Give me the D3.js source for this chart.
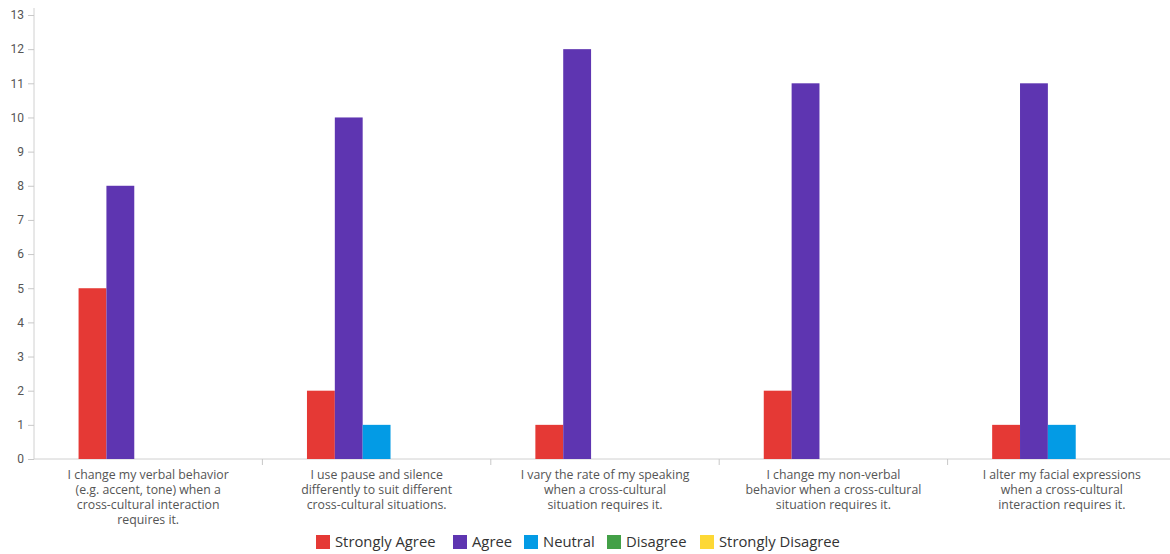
<!DOCTYPE html>
<html>
<head>
<meta charset="utf-8">
<script src="https://cdn.jsdelivr.net/npm/d3@7"></script>
<style>
  html, body { margin: 0; padding: 0; background: #fff; }
  svg { display: block; font-family: "Open Sans", Roboto, sans-serif; }
</style>
</head>
<body>
<svg id="chart" width="1170" height="554"></svg>
<script>
// Survey statements (already broken into display lines)
const categories = [
  ["I change my verbal behavior", "(e.g. accent, tone) when a", "cross-cultural interaction", "requires it."],
  ["I use pause and silence", "differently to suit different", "cross-cultural situations."],
  ["I vary the rate of my speaking", "when a cross-cultural", "situation requires it."],
  ["I change my non-verbal", "behavior when a cross-cultural", "situation requires it."],
  ["I alter my facial expressions", "when a cross-cultural", "interaction requires it."]
];
const seriesNames = ["Strongly Agree", "Agree", "Neutral", "Disagree", "Strongly Disagree"];
const seriesColors = ["#e53935", "#5e35b1", "#039be5", "#43a047", "#fdd835"];

// Response counts per statement, one array per answer option
const stronglyAgree    = [5, 2, 1, 2, 1];
const agree            = [8, 10, 12, 11, 11];
const neutral          = [0, 1, 0, 0, 1];
const disagree         = [0, 0, 0, 0, 0];
const stronglyDisagree = [0, 0, 0, 0, 0];
const yTicks = [0, 1, 2, 3, 4, 5, 6, 7, 8, 9, 10, 11, 12, 13];

const seriesValues = [stronglyAgree, agree, neutral, disagree, stronglyDisagree];

const svg = d3.select("#chart");
const m = { left: 34, right: 1176, top: 15, bottom: 459 };

const x0 = d3.scaleBand().domain(d3.range(categories.length)).range([m.left, m.right]);
const x1 = d3.scaleBand().domain(d3.range(seriesNames.length))
  .range([0, x0.bandwidth()]).paddingOuter(1.6);
const y = d3.scaleLinear().domain([0, 13]).range([m.bottom, m.top]);

// Y axis
const yAxis = svg.append("g")
  .attr("transform", `translate(${m.left},0)`)
  .call(d3.axisLeft(y).tickValues(yTicks).tickSize(6).tickPadding(4).tickFormat(d3.format("d")));
yAxis.select(".domain").attr("stroke", "#d0d0d0").attr("d", `M0,8V${m.bottom}`);
yAxis.selectAll(".tick line").attr("stroke", "#c8c8c8");
yAxis.selectAll(".tick text").attr("fill", "#555").style("font-size", "12px")
  .style("font-family", "Roboto, sans-serif");

// X axis with separators between groups
const xg = svg.append("g").attr("transform", `translate(0,${m.bottom})`);
xg.append("line").attr("x1", m.left).attr("x2", 1170).attr("stroke", "#d0d0d0");
xg.selectAll("line.sep")
  .data(d3.range(1, categories.length))
  .join("line")
  .attr("class", "sep")
  .attr("x1", i => x0(i)).attr("x2", i => x0(i))
  .attr("y1", 0).attr("y2", 6)
  .attr("stroke", "#c8c8c8");

// Category labels
const labels = xg.selectAll("text.cat")
  .data(categories)
  .join("text")
  .attr("class", "cat")
  .attr("text-anchor", "middle")
  .attr("fill", "#555")
  .style("font-size", "12.3px")
  .attr("transform", (d, i) => `translate(${x0(i) + x0.bandwidth() / 2},20)`);
labels.selectAll("tspan")
  .data(d => d)
  .join("tspan")
  .attr("x", 0)
  .attr("dy", (d, j) => j === 0 ? 0 : 15)
  .text(d => d);

// Bars
const groups = svg.append("g").selectAll("g")
  .data(categories)
  .join("g")
  .attr("transform", (d, i) => `translate(${x0(i)},0)`);
groups.selectAll("rect")
  .data((d, i) => seriesValues.map((vals, s) => ({ s, v: vals[i] })))
  .join("rect")
  .attr("x", d => x1(d.s))
  .attr("width", x1.bandwidth())
  .attr("y", d => y(d.v))
  .attr("height", d => m.bottom - y(d.v))
  .attr("fill", d => seriesColors[d.s]);

// Legend
const legend = svg.append("g").attr("transform", "translate(0,542)");
const legendX = [316, 453, 524, 607, 700];
const item = legend.selectAll("g")
  .data(seriesNames)
  .join("g")
  .attr("transform", (d, i) => `translate(${legendX[i]},0)`);
item.append("rect")
  .attr("x", 0).attr("y", -7).attr("width", 14).attr("height", 14)
  .attr("fill", (d, i) => seriesColors[i]);
item.append("text")
  .attr("x", 19).attr("y", 5)
  .attr("fill", "#333")
  .style("font-size", "14.8px")
  .text(d => d);
</script>
</body>
</html>
